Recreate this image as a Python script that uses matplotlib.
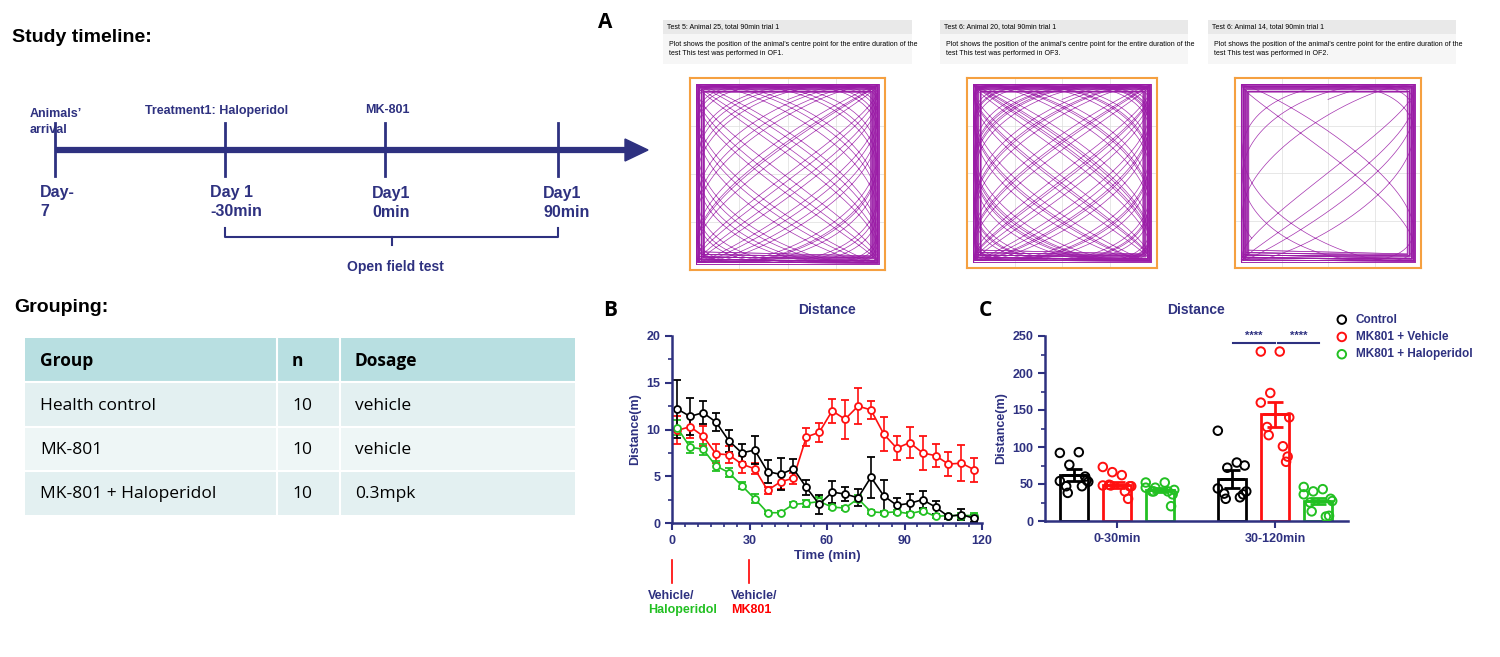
import numpy as np
import matplotlib
matplotlib.use("Agg")
import matplotlib.pyplot as plt
from matplotlib.patches import Rectangle

NAVY = "#2E3180"
plt.rcParams['font.family'] = ['Liberation Sans', 'DejaVu Sans']

# ---------------- data ----------------
time_min = [2, 7, 12, 17, 22, 27, 32, 37, 42, 47, 52, 57, 62, 67, 72, 77, 82, 87, 92, 97, 102, 107, 112, 117]
ctrl_mean = [12.2, 11.4, 11.8, 10.8, 8.8, 7.5, 7.8, 5.5, 5.2, 5.8, 3.8, 2.0, 3.3, 3.1, 2.7, 4.9, 2.9, 1.9, 2.1, 2.5, 1.7, 0.7, 0.9, 0.5]
ctrl_err = [3.1, 2.0, 1.2, 1.0, 1.2, 1.0, 1.5, 1.2, 1.7, 1.0, 0.8, 1.0, 1.2, 0.8, 0.9, 2.2, 1.7, 0.8, 1.0, 0.9, 0.7, 0.3, 0.6, 0.4]
mkv_mean = [9.9, 10.3, 9.3, 7.4, 7.3, 6.3, 5.8, 3.5, 4.4, 4.8, 9.2, 9.7, 12.0, 11.1, 12.5, 12.1, 9.5, 8.0, 8.6, 7.5, 7.2, 6.3, 6.4, 5.7]
mkv_err = [1.5, 1.2, 1.1, 1.0, 0.9, 0.9, 0.6, 0.4, 0.8, 0.6, 1.0, 1.0, 1.3, 2.1, 1.9, 1.0, 1.8, 1.3, 1.7, 1.8, 1.2, 1.3, 1.9, 1.3]
mkh_mean = [10.2, 8.1, 7.9, 6.1, 5.4, 4.0, 2.6, 1.1, 1.1, 2.0, 2.1, 2.3, 1.7, 1.6, 2.6, 1.2, 1.1, 1.2, 1.0, 1.3, 0.7, 0.8, 0.8, 0.8]
mkh_err = [0.8, 0.6, 0.6, 0.5, 0.5, 0.4, 0.5, 0.15, 0.15, 0.2, 0.4, 0.5, 0.2, 0.2, 0.4, 0.2, 0.2, 0.2, 0.2, 0.2, 0.2, 0.2, 0.3, 0.3]

periods = ["0-30min", "30-120min"]
groups = ["Control", "MK801 + Vehicle", "MK801 + Haloperidol"]
bar_mean = {"Control": [62, 57], "MK801 + Vehicle": [49, 144], "MK801 + Haloperidol": [42, 27]}
bar_sem = {"Control": [8, 12], "MK801 + Vehicle": [4, 17], "MK801 + Haloperidol": [3, 4]}
pts = {
    "Control": [[92, 93, 76, 54, 53, 47, 38, 47, 60, 55], [122, 79, 72, 44, 40, 37, 30, 32, 36, 75]],
    "MK801 + Vehicle": [[73, 62, 66, 48, 47, 49, 48, 40, 30, 47], [229, 229, 173, 160, 140, 127, 116, 101, 80, 87]],
    "MK801 + Haloperidol": [[52, 52, 45, 45, 42, 40, 40, 40, 20, 36], [46, 43, 40, 36, 27, 25, 13, 6, 7, 30]],
}
jit = [-0.09, 0.03, -0.03, -0.09, 0.09, -0.05, -0.04, 0.05, 0.07, 0.08]
colors = {"Control": "black", "MK801 + Vehicle": "#FF1010", "MK801 + Haloperidol": "#22C022"}

table_rows = [["Group", "n", "Dosage"],
              ["Health control", "10", "vehicle"],
              ["MK-801", "10", "vehicle"],
              ["MK-801 + Haloperidol", "10", "0.3mpk"]]

# ---------------- figure ----------------
W, H = 1500, 657
fig = plt.figure(figsize=(15, 6.57), dpi=100)
bg = fig.add_axes([0, 0, 1, 1])
bg.set_xlim(0, W); bg.set_ylim(H, 0); bg.axis("off")

def fa(l, t, r, b):
    return [l / W, 1 - b / H, (r - l) / W, (b - t) / H]

NAR = ['Liberation Sans', 'DejaVu Sans']
# Timeline
bg.text(12, 37, "Study timeline:", fontsize=14, fontweight="bold", family=NAR, va="center")
bg.plot([55, 628], [150, 150], color=NAVY, lw=4.5, solid_capstyle="butt")
bg.add_patch(plt.Polygon([[625, 139], [648, 150], [625, 161]], color=NAVY))
for x in [55, 225, 385, 558]:
    bg.plot([x, x], [123, 176], color=NAVY, lw=2)
bg.text(30, 122, "Animals’\narrival", color=NAVY, fontsize=9, fontweight="bold", family=NAR, va="center", linespacing=1.5)
bg.text(145, 111, "Treatment1: Haloperidol", color=NAVY, fontsize=9, fontweight="bold", family=NAR, va="center")
bg.text(365, 110, "MK-801", color=NAVY, fontsize=9, fontweight="bold", family=NAR, va="center")
bg.text(40, 202, "Day-\n7", color=NAVY, fontsize=11.5, fontweight="bold", family=NAR, va="center", linespacing=1.35)
bg.text(210, 202, "Day 1\n-30min", color=NAVY, fontsize=11.5, fontweight="bold", family=NAR, va="center", linespacing=1.35)
bg.text(372, 203, "Day1\n0min", color=NAVY, fontsize=11.5, fontweight="bold", family=NAR, va="center", linespacing=1.35)
bg.text(543, 203, "Day1\n90min", color=NAVY, fontsize=11.5, fontweight="bold", family=NAR, va="center", linespacing=1.35)
bg.plot([225, 225, 558, 558], [228, 237, 237, 228], color=NAVY, lw=1.5)
bg.plot([392, 392], [237, 245], color=NAVY, lw=1.5)
bg.text(395, 267, "Open field test", color=NAVY, fontsize=10, fontweight="bold", family=NAR, ha="center", va="center")

# Grouping table
bg.text(14, 308, "Grouping:", fontsize=14, fontweight="bold", family=NAR, va="center")
row_y = [338, 382, 427, 471, 515]
col_x = [25, 277, 340, 575]
for i in range(4):
    fc = "#B8DFE1" if i == 0 else ("#E3F0F1" if i % 2 == 1 else "#EEF6F6")
    bg.add_patch(Rectangle((25, row_y[i]), 550, row_y[i + 1] - row_y[i], fc=fc, ec="none"))
    for j in range(3):
        bg.text(col_x[j] + 15, (row_y[i] + row_y[i + 1]) / 2 + 1, table_rows[i][j],
                fontsize=12.5, fontweight="bold" if i == 0 else "normal",
                family=['Open Sans', 'DejaVu Sans'], va="center")
for y in row_y[1:-1]:
    bg.plot([25, 575], [y, y], color="white", lw=1.5)
for x in col_x[1:3]:
    bg.plot([x, x], [338, 515], color="white", lw=1.5)

# Panel labels
for lab, x, y in [("A", 605, 22), ("B", 610, 311), ("C", 985, 311)]:
    bg.text(x, y, lab, fontsize=15, fontweight="bold", family=['Open Sans', 'DejaVu Sans'], ha="center", va="center")

# Tracking panels
track_info = [
    (663, 912, 690, 885, 78, 270, "Test 5: Animal 25, total 90min trial 1", "OF1", 1.0),
    (940, 1188, 967, 1157, 78, 268, "Test 6: Animal 20, total 90min trial 1", "OF3", 1.3),
    (1208, 1456, 1235, 1421, 78, 268, "Test 6: Animal 14, total 90min trial 1", "OF2", 0.25),
]
PURP = "#9A1BA6"
for (hx0, hx1, sx0, sx1, sy0, sy1, title, of, dens) in track_info:
    bg.add_patch(Rectangle((hx0, 20), hx1 - hx0, 14, fc="#E9E9E9", ec="none"))
    bg.add_patch(Rectangle((hx0, 34), hx1 - hx0, 30, fc="#F6F6F6", ec="none"))
    bg.text(hx0 + 4, 27, title, fontsize=5, va="center")
    bg.text(hx0 + 6, 49, "Plot shows the position of the animal's centre point for the entire duration of the\ntest This test was performed in %s." % of,
            fontsize=5, va="center", linespacing=1.4)
    tax = fig.add_axes(fa(sx0, sy0, sx1, sy1))
    tax.set_xlim(0, 1); tax.set_ylim(0, 1)
    tax.set_xticks([]); tax.set_yticks([])
    for s in tax.spines.values():
        s.set_color("#F5A040"); s.set_linewidth(1.5)
    for g in [0.25, 0.5, 0.75]:
        tax.axvline(g, color="#DDDDDD", lw=0.5); tax.axhline(g, color="#DDDDDD", lw=0.5)
    for k in range(30):
        m = 0.03 + 0.004 * (k % 12)
        tax.plot([m, 1 - m, 1 - m, m, m], [m + 0.01 * (k % 3), m, 1 - m, 1 - m, m], color=PURP, lw=0.5, alpha=0.8)
    t = np.linspace(0, 1, 4000)
    xs = 0.5 + 0.46 * np.sin(2 * np.pi * 23.3 * dens * t)
    ys = 0.5 + 0.46 * np.sin(2 * np.pi * 17.9 * dens * t + 1.0)
    tax.plot(xs, ys, color=PURP, lw=0.5, alpha=0.9)

# ---------------- Panel B ----------------
axB = fig.add_axes(fa(672, 336, 982, 523))
for m, e, c in [(mkv_mean, mkv_err, colors["MK801 + Vehicle"]), (mkh_mean, mkh_err, colors["MK801 + Haloperidol"]), (ctrl_mean, ctrl_err, "black")]:
    axB.errorbar(time_min, m, yerr=e, color=c, marker="o", mfc="white", mec=c, ms=5, mew=1.3,
                 lw=1.2, capsize=3, elinewidth=1.2)
axB.set_xlim(0, 120); axB.set_ylim(0, 20)
axB.set_xticks([0, 30, 60, 90, 120]); axB.set_yticks([0, 5, 10, 15, 20])
axB.set_xticks(np.arange(0, 121, 5), minor=True)
axB.set_yticks(np.arange(0, 21, 2.5), minor=True)
axB.set_title("Distance", color=NAVY, fontsize=10, fontweight="bold", pad=16)
axB.set_xlabel("Time (min)", color=NAVY, fontsize=9.5, fontweight="bold", labelpad=2)
axB.set_ylabel("Distance(m)", color=NAVY, fontsize=9, fontweight="bold", labelpad=4)

# ---------------- Panel C ----------------
axC = fig.add_axes(fa(1045, 336, 1348, 521))
offs = [-0.272, 0, 0.272]
for gi, g in enumerate(groups):
    c = colors[g]
    for pi in range(2):
        x = pi + offs[gi]
        axC.bar(x, bar_mean[g][pi], width=0.18, color="white", edgecolor=c, lw=2, zorder=2)
        axC.errorbar(x, bar_mean[g][pi], yerr=bar_sem[g][pi], color=c, capsize=6, elinewidth=2, capthick=2, zorder=3)
        axC.plot([x - 0.07, x + 0.07], [bar_mean[g][pi]] * 2, color=c, lw=2, zorder=3)
        axC.scatter([x + j for j in jit], pts[g][pi], s=38, facecolor="none", edgecolor=c, lw=1.4, zorder=4,
                    label=g if pi == 0 else None)
axC.set_xlim(-0.456, 1.462); axC.set_ylim(0, 250)
axC.set_xticks([0, 1]); axC.set_xticklabels(periods)
axC.set_yticks([0, 50, 100, 150, 200, 250])
axC.set_yticks(np.arange(0, 251, 25), minor=True)
axC.set_title("Distance", color=NAVY, fontsize=10, fontweight="bold", pad=16)
axC.set_ylabel("Distance(m)", color=NAVY, fontsize=9, fontweight="bold", labelpad=4)
for x0, x1 in [(0.734, 0.997), (1.022, 1.28)]:
    axC.plot([x0, x1], [240, 240], color=NAVY, lw=1.5, clip_on=False)
    axC.text((x0 + x1) / 2, 243, "****", color=NAVY, fontsize=8, fontweight="bold", ha="center", va="bottom")
leg = axC.legend(loc="upper left", bbox_to_anchor=(1330 / W, 1 - 309 / H), bbox_transform=fig.transFigure,
                 frameon=False, handletextpad=0.6, handlelength=1.2, labelspacing=0.45, labelcolor=NAVY,
                 borderaxespad=0, prop={"weight": "bold", "size": 8.5})

for ax in (axB, axC):
    for s in ["top", "right"]:
        ax.spines[s].set_visible(False)
    for s in ["left", "bottom"]:
        ax.spines[s].set_color(NAVY); ax.spines[s].set_linewidth(1.8)
    ax.tick_params(colors=NAVY, width=1.5, length=5, labelsize=9)
    ax.tick_params(which="minor", colors=NAVY, width=1.2, length=3)
    for lab in ax.get_xticklabels() + ax.get_yticklabels():
        lab.set_fontweight("bold")
axC.set_xticks([], minor=True)

# Injection markers below B
bg.plot([672, 672], [560, 583], color="red", lw=1.2)
bg.plot([749, 749], [560, 583], color="red", lw=1.2)
bg.text(648, 596, "Vehicle/", color=NAVY, fontsize=9, fontweight="bold", va="center")
bg.text(648, 610, "Haloperidol", color=colors["MK801 + Haloperidol"], fontsize=9, fontweight="bold", va="center")
bg.text(731, 596, "Vehicle/", color=NAVY, fontsize=9, fontweight="bold", va="center")
bg.text(731, 610, "MK801", color="red", fontsize=9, fontweight="bold", va="center")

fig.savefig("out.png", dpi=100)
